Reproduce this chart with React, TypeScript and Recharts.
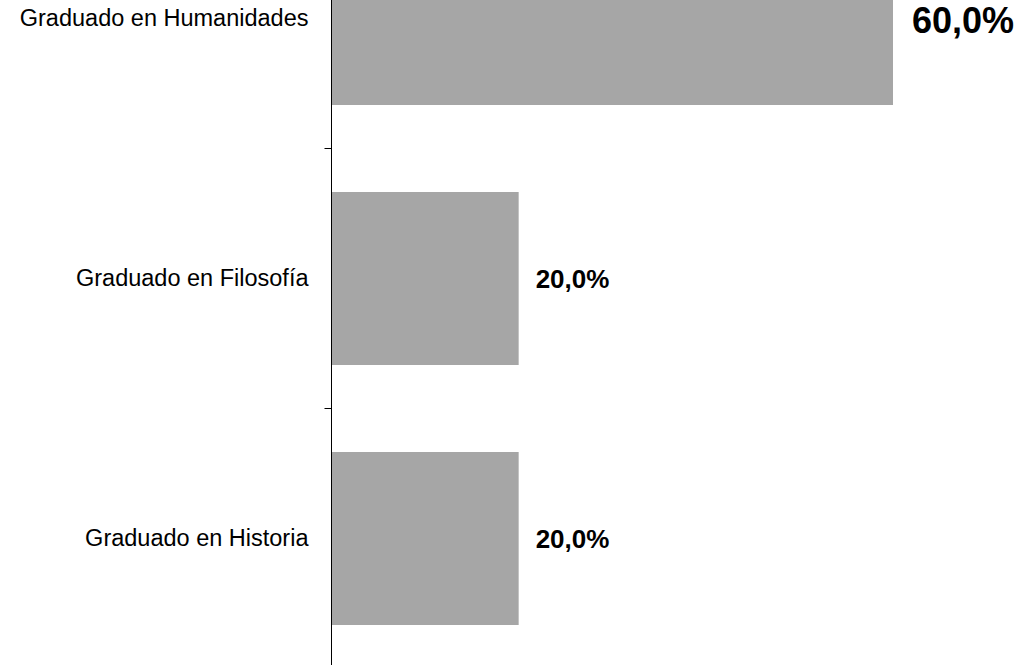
import React from 'react';
import { BarChart, Bar, XAxis, YAxis, LabelList } from 'recharts';

const categories = ['Graduado en Humanidades', 'Graduado en Filosofía', 'Graduado en Historia'];
const values = [60, 20, 20];
const xDomain: [number, number] = [0, 60];

const data = categories.map((name, i) => ({ name, value: values[i] }));

const FONT = '"Liberation Sans", Arial, Helvetica, sans-serif';
const CHART_W = 1023;
const CHART_H = 780;
const TOP_SHIFT = -112;
const AXIS_W = 331.5;
const TICK_SIZE = 7;
const TICK_GAP = 16;
const BAND = CHART_H / categories.length;
const maxValue = Math.max(...values);

const CategoryTick = (props: any) => {
  const { x, y, payload } = props;
  const axisX = x + TICK_SIZE + TICK_GAP;
  const ty = Math.round(y + BAND / 2) + 0.5;
  return (
    <g>
      <text
        x={x}
        y={y}
        textAnchor="end"
        dominantBaseline="central"
        fontFamily={FONT}
        fontSize={23.5}
        fill="#000"
      >
        {payload.value}
      </text>
      <line x1={axisX - TICK_SIZE} x2={axisX} y1={ty} y2={ty} stroke="#000" strokeWidth={1} />
    </g>
  );
};

const ValueLabel = (props: any) => {
  const { x, y, width, height, value } = props;
  const big = value === maxValue;
  return (
    <text
      x={x + width + (big ? 19 : 17)}
      y={y + height / 2 + (big ? 2 : 0)}
      dominantBaseline="central"
      fontFamily={FONT}
      fontWeight="bold"
      fontSize={big ? 36 : 26}
      fill="#000"
    >
      {Number(value).toFixed(1).replace('.', ',') + '%'}
    </text>
  );
};

export default function App() {
  return (
    <div
      style={{
        position: 'fixed',
        top: 0,
        left: 0,
        width: CHART_W,
        height: 665,
        overflow: 'hidden',
        background: '#fff',
      }}
    >
      <div style={{ position: 'absolute', top: TOP_SHIFT, left: 0 }}>
        <BarChart
          width={CHART_W}
          height={CHART_H}
          data={data}
          layout="vertical"
          margin={{ top: 0, right: 130, bottom: 0, left: 0 }}
        >
          <XAxis type="number" domain={xDomain} hide />
          <YAxis
            type="category"
            dataKey="name"
            width={AXIS_W}
            tickSize={TICK_SIZE}
            tickMargin={TICK_GAP}
            tickLine={false}
            axisLine={{ stroke: '#000', strokeWidth: 1 }}
            tick={<CategoryTick />}
            interval={0}
          />
          <Bar dataKey="value" fill="#A6A6A6" barSize={173} isAnimationActive={false}>
            <LabelList dataKey="value" content={<ValueLabel />} />
          </Bar>
        </BarChart>
      </div>
    </div>
  );
}
